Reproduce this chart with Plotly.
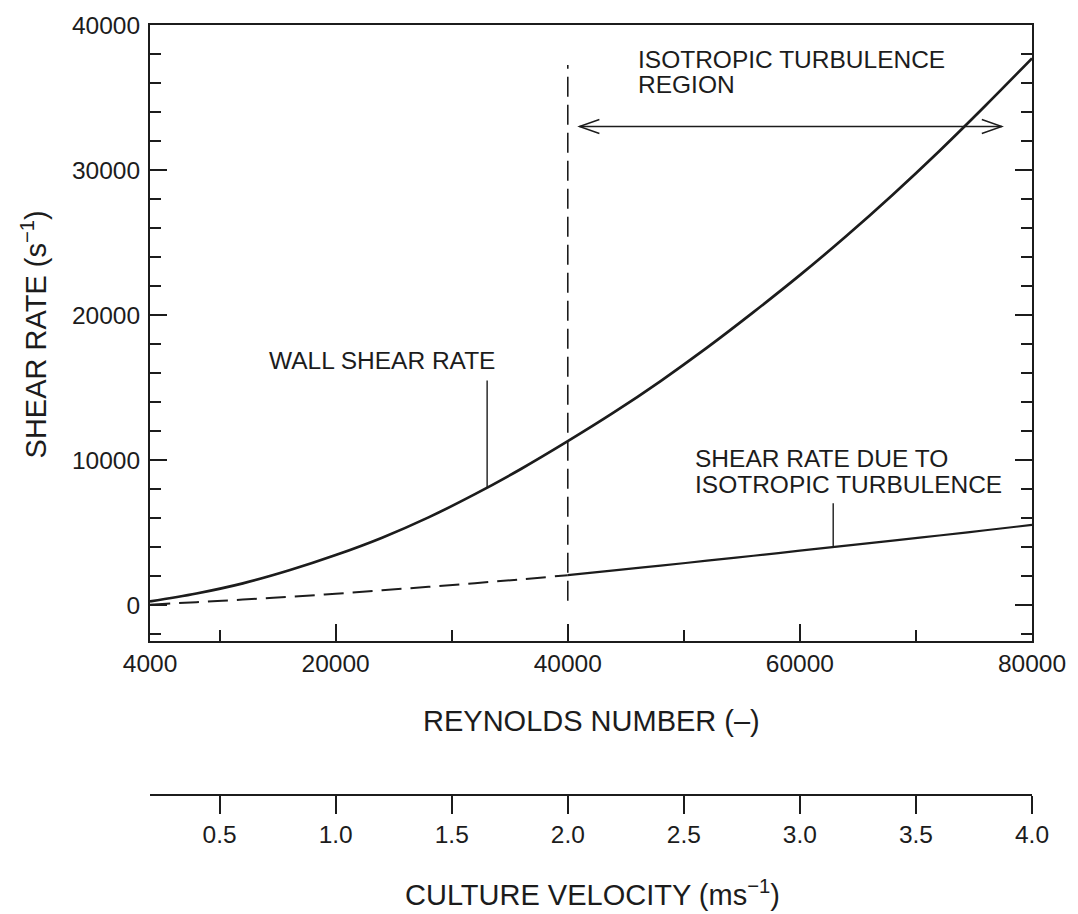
import plotly.graph_objects as go

# ---------------- data ----------------
reynolds = [4000, 8000, 12000, 16000, 20000, 24000, 28000, 32000, 36000, 40000,
            44000, 48000, 52000, 56000, 60000, 64000, 68000, 72000, 76000, 80000]
wall_shear = [250, 800, 1500, 2400, 3450, 4650, 6050, 7650, 9400, 11300,
              13300, 15450, 17750, 20200, 22750, 25450, 28300, 31300, 34450, 37700]
iso_shear = [30, 200, 380, 570, 780, 1020, 1260, 1510, 1780, 2060,
             2390, 2720, 3060, 3400, 3750, 4100, 4450, 4800, 5160, 5530]

RE_ISOTROPIC_START = 40000          # start of isotropic turbulence region
RE_PER_VELOCITY = 20000             # Re = 20000 * culture velocity

re_range = [4000, 80000]
shear_range = [-2450, 40000]
re_tick_vals = [4000, 20000, 40000, 60000, 80000]
shear_tick_vals = [0, 10000, 20000, 30000, 40000]
velocity_tick_vals = [0.5, 1.0, 1.5, 2.0, 2.5, 3.0, 3.5, 4.0]

# annotation anchors (data units)
region_arrow = dict(re_from=41000, re_to=77400, shear=33000)
region_line_top, region_line_bottom = 37250, 300
wall_leader = dict(re=33050, top=15480, bottom=8080)
iso_leader = dict(re=62870, top=7030, bottom=4010)

FONT = "Liberation Sans, Arial, Helvetica, sans-serif"
INK = "#1c1c1c"

fig = go.Figure()

# wall shear rate curve
fig.add_trace(go.Scatter(x=reynolds, y=wall_shear, mode="lines",
                         line=dict(color=INK, width=2.7, shape="spline"),
                         showlegend=False, hoverinfo="skip"))

# isotropic turbulence shear rate: dashed below 40000, solid above
re_lo = [r for r in reynolds if r <= RE_ISOTROPIC_START]
iso_lo = [v for r, v in zip(reynolds, iso_shear) if r <= RE_ISOTROPIC_START]
re_hi = [r for r in reynolds if r >= RE_ISOTROPIC_START]
iso_hi = [v for r, v in zip(reynolds, iso_shear) if r >= RE_ISOTROPIC_START]
fig.add_trace(go.Scatter(x=re_lo, y=iso_lo, mode="lines",
                         line=dict(color=INK, width=2, dash="20px,9px", shape="spline"),
                         showlegend=False, hoverinfo="skip"))
fig.add_trace(go.Scatter(x=re_hi, y=iso_hi, mode="lines",
                         line=dict(color=INK, width=2.2, shape="spline"),
                         showlegend=False, hoverinfo="skip"))

# invisible trace carrying the culture-velocity axis
fig.add_trace(go.Scatter(x=[r / RE_PER_VELOCITY for r in reynolds], y=wall_shear,
                         xaxis="x2", yaxis="y", mode="lines", opacity=0,
                         showlegend=False, hoverinfo="skip"))

tickfont = dict(family=FONT, size=24.5, color=INK)

fig.update_layout(
    width=1078, height=914,
    margin=dict(l=150, r=41, t=22, b=119),
    paper_bgcolor="white", plot_bgcolor="white",
    font=dict(family=FONT, color=INK),
    xaxis=dict(
        range=re_range, domain=[0, 1], anchor="y",
        tickmode="array", tickvals=re_tick_vals,
        ticktext=[str(v) for v in re_tick_vals],
        ticks="inside", ticklen=17, tickwidth=1.5, tickcolor=INK,
        showline=True, linewidth=2, linecolor=INK, mirror=True,
        showgrid=False, zeroline=False, tickfont=tickfont,
        minor=dict(tick0=0, dtick=10000, ticks="inside", ticklen=11,
                   tickwidth=1.5, tickcolor=INK, showgrid=False),
    ),
    yaxis=dict(
        range=shear_range, domain=[0.2005, 1], anchor="x",
        tickmode="array", tickvals=shear_tick_vals,
        ticktext=[str(v) for v in shear_tick_vals],
        ticks="inside", ticklen=17, tickwidth=1.5, tickcolor=INK,
        showline=True, linewidth=2, linecolor=INK, mirror="ticks",
        showgrid=False, zeroline=False, tickfont=tickfont,
        ticklabelstandoff=3,
        minor=dict(tick0=0, dtick=2000, ticks="inside", ticklen=11,
                   tickwidth=1.5, tickcolor=INK, showgrid=False),
    ),
    xaxis2=dict(
        overlaying="x", anchor="free", position=0, side="bottom",
        range=[re_range[0] / RE_PER_VELOCITY, re_range[1] / RE_PER_VELOCITY],
        tickmode="array", tickvals=velocity_tick_vals,
        ticktext=[f"{v:.1f}" for v in velocity_tick_vals],
        ticks="outside", ticklen=18, tickwidth=1.5, tickcolor=INK,
        showline=True, linewidth=2, linecolor=INK,
        showgrid=False, zeroline=False, tickfont=tickfont,
    ),
)

ann_font = dict(family=FONT, size=24.5, color=INK)
title_font = dict(family=FONT, size=29, color=INK)

annotations = [
    # axis titles
    dict(text="REYNOLDS NUMBER (–)", xref="paper", yref="paper", x=0.5, y=0.0957,
         xanchor="center", yanchor="middle", showarrow=False, font=title_font),
    dict(text="CULTURE VELOCITY (ms<sup>−1</sup>)", xref="paper", yref="paper",
         x=0.5017, y=-0.1268, xanchor="center", yanchor="middle",
         showarrow=False, font=title_font),
    dict(text="SHEAR RATE (s<sup>−1</sup>)", xref="paper", yref="paper",
         x=-0.1319, y=0.5977, xanchor="center", yanchor="middle",
         textangle=-90, showarrow=False, font=title_font),
    # curve labels
    dict(text="ISOTROPIC TURBULENCE", x=45900, y=37600, xref="x", yref="y",
         xanchor="left", yanchor="middle", showarrow=False, font=ann_font),
    dict(text="REGION", x=45900, y=35880, xref="x", yref="y",
         xanchor="left", yanchor="middle", showarrow=False, font=ann_font),
    dict(text="WALL SHEAR RATE", x=14110, y=16860, xref="x", yref="y",
         xanchor="left", yanchor="middle", showarrow=False, font=ann_font),
    dict(text="SHEAR RATE DUE TO", x=50790, y=10130, xref="x", yref="y",
         xanchor="left", yanchor="middle", showarrow=False, font=ann_font),
    dict(text="ISOTROPIC TURBULENCE", x=50790, y=8340, xref="x", yref="y",
         xanchor="left", yanchor="middle", showarrow=False, font=ann_font),
]
fig.update_layout(annotations=annotations)

thin = dict(color=INK, width=1.4)
shapes = [
    # boundary of the isotropic turbulence region
    dict(type="line", xref="x", yref="y",
         x0=RE_ISOTROPIC_START, x1=RE_ISOTROPIC_START,
         y0=region_line_bottom, y1=region_line_top,
         line=dict(color=INK, width=1.6, dash="20px,8px")),
    # double-headed arrow
    dict(type="line", xref="x", yref="y",
         x0=region_arrow["re_from"], x1=region_arrow["re_to"],
         y0=region_arrow["shear"], y1=region_arrow["shear"], line=thin),
    dict(type="path", xref="x", yref="y", xsizemode="pixel", ysizemode="pixel",
         xanchor=region_arrow["re_from"], yanchor=region_arrow["shear"],
         path="M 20,7 L 0,0 L 20,-7", line=thin),
    dict(type="path", xref="x", yref="y", xsizemode="pixel", ysizemode="pixel",
         xanchor=region_arrow["re_to"], yanchor=region_arrow["shear"],
         path="M -20,7 L 0,0 L -20,-7", line=thin),
    # leader lines
    dict(type="line", xref="x", yref="y",
         x0=wall_leader["re"], x1=wall_leader["re"],
         y0=wall_leader["bottom"], y1=wall_leader["top"], line=thin),
    dict(type="line", xref="x", yref="y",
         x0=iso_leader["re"], x1=iso_leader["re"],
         y0=iso_leader["bottom"], y1=iso_leader["top"], line=thin),
]
fig.update_layout(shapes=shapes)

fig.write_html("out.html")
